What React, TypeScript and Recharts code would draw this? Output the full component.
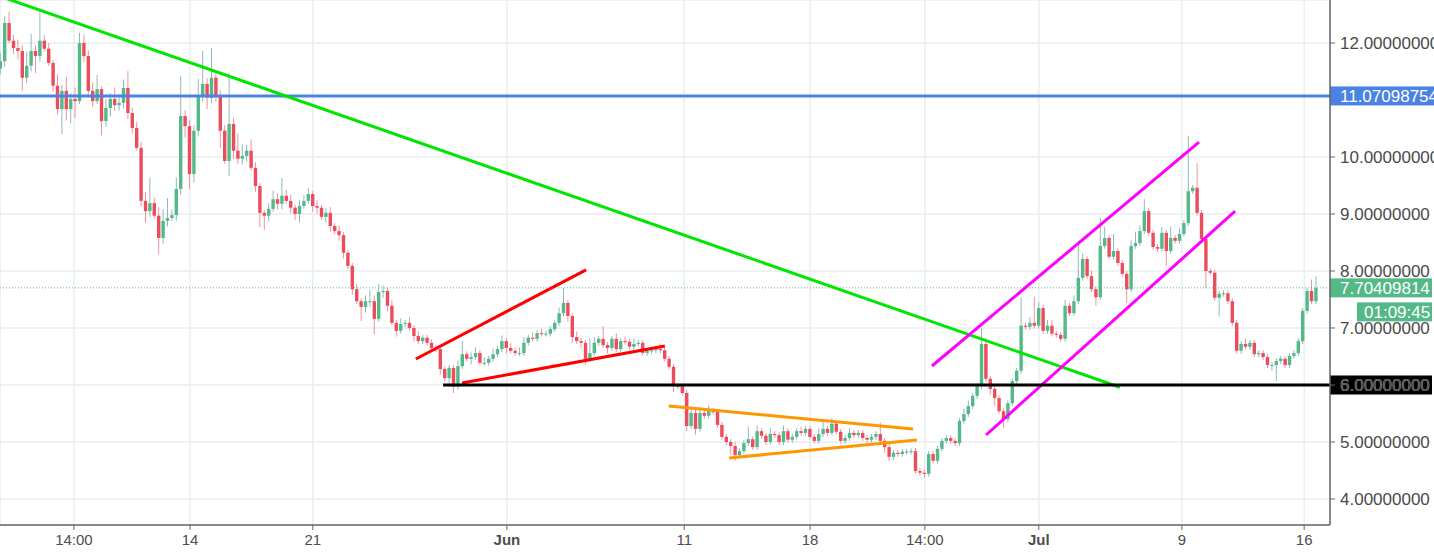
import React from 'react';
import { ComposedChart, Bar, XAxis, YAxis, CartesianGrid, ReferenceLine } from 'recharts';

// ---- price data (6h candles), closes ----
const firstOpen = 11.55;
const closes = [
  11.68, 12.35, 12.04, 11.91, 11.86, 11.39, 11.6, 11.86, 11.77, 12.04,
  11.9, 11.65, 11.25, 10.84, 11.16, 10.84, 11.02, 10.98, 12.0, 11.77,
  11.16, 10.98, 11.19, 10.63, 10.86, 11.02, 10.91, 10.95, 11.21, 10.77,
  10.51, 10.16, 9.23, 9.05, 9.19, 8.97, 8.58, 8.88, 8.93, 8.98,
  9.44, 10.72, 10.54, 9.7, 10.46, 11.07, 11.28, 11.04, 11.39, 11.07,
  10.46, 9.93, 10.58, 10.11, 9.97, 10.02, 10.11, 9.81, 9.49, 9.02,
  8.97, 9.09, 9.26, 9.18, 9.32, 9.23, 9.11, 9.0, 9.14, 9.23,
  9.35, 9.14, 9.11, 8.95, 9.02, 8.79, 8.7, 8.63, 8.32, 8.09,
  7.68, 7.47, 7.37, 7.47, 7.47, 7.16, 7.63, 7.65, 7.39, 7.09,
  6.95, 7.07, 7.09, 7.0, 6.86, 6.77, 6.83, 6.74, 6.65, 6.63,
  6.28, 6.12, 6.3, 5.97, 6.33, 6.54, 6.46, 6.49, 6.56, 6.39,
  6.39, 6.46, 6.54, 6.63, 6.77, 6.65, 6.6, 6.56, 6.56, 6.74,
  6.83, 6.81, 6.91, 6.9, 6.9, 6.98, 7.09, 7.26, 7.44, 7.21,
  6.84, 6.77, 6.74, 6.46, 6.56, 6.74, 6.81, 6.7, 6.65, 6.81,
  6.63, 6.77, 6.76, 6.67, 6.72, 6.74, 6.56, 6.6, 6.61, 6.63,
  6.61, 6.46, 6.32, 5.98, 5.98, 5.86, 5.28, 5.51, 5.23, 5.51,
  5.46, 5.54, 5.53, 5.3, 5.09, 5.0, 4.93, 4.77, 4.84, 4.98,
  5.05, 4.91, 5.19, 5.11, 5.0, 5.14, 5.12, 5.0, 5.19, 5.04,
  5.09, 5.19, 5.16, 5.23, 5.09, 5.02, 5.14, 5.23, 5.16, 5.32,
  5.18, 5.02, 5.07, 5.16, 5.12, 5.16, 5.07, 5.04, 5.09, 5.14,
  5.02, 4.91, 4.74, 4.81, 4.79, 4.83, 4.83, 4.84, 4.49, 4.46,
  4.44, 4.79, 4.67, 4.88, 5.02, 5.07, 5.02, 4.98, 5.37, 5.49,
  5.63, 5.81, 5.98, 6.72, 6.11, 5.93, 5.77, 5.54, 5.4, 5.68,
  6.07, 6.25, 7.04, 7.02, 7.09, 7.04, 7.35, 6.95, 7.04, 6.9,
  6.88, 6.81, 7.39, 7.26, 7.47, 7.88, 8.21, 7.91, 7.68, 7.54,
  8.44, 8.58, 8.25, 8.35, 8.14, 7.95, 7.68, 8.44, 8.49, 8.7,
  9.05, 8.67, 8.42, 8.39, 8.67, 8.35, 8.58, 8.53, 8.65, 8.84,
  9.4, 9.46, 9.02, 8.56, 8.0, 7.97, 7.53, 7.6, 7.61, 7.47,
  7.09, 6.6, 6.72, 6.67, 6.74, 6.54, 6.56, 6.49, 6.35, 6.35,
  6.42, 6.46, 6.35, 6.51, 6.56, 6.77, 7.3, 7.65, 7.47, 7.70409814,
];
const wickUp = [
  0.15, 0.12, 0.2, 0.1, 0.15, 0.1, 0.25, 0.3, 0.1, 0.55,
  0.1, 0.1, 0.05, 0.2, 0.1, 0.25, 0.1, 0.2, 0.18, 0.15,
  0.1, 0.15, 0.25, 0.05, 0.15, 0.1, 0.2, 0.15, 0.15, 0.3,
  0.1, 0.1, 0.1, 0.15, 0.45, 0.1, 0.15, 0.2, 0.35, 0.1,
  0.2, 0.7, 0.1, 0.1, 0.1, 0.3, 0.58, 0.1, 0.52, 0.1,
  0.1, 0.1, 0.89, 0.1, 0.3, 0.2, 0.1, 0.2, 0.1, 0.05,
  0.05, 0.1, 0.15, 0.1, 0.31, 0.1, 0.1, 0.05, 0.1, 0.1,
  0.1, 0.05, 0.1, 0.05, 0.08, 0.1, 0.05, 0.1, 0.05, 0.05,
  0.05, 0.1, 0.05, 0.1, 0.2, 0.1, 0.14, 0.1, 0.05, 0.1,
  0.05, 0.1, 0.05, 0.1, 0.05, 0.08, 0.05, 0.05, 0.06, 0.05,
  0.05, 0.05, 0.05, 0.05, 0.1, 0.23, 0.05, 0.08, 0.1, 0.05,
  0.1, 0.05, 0.1, 0.05, 0.1, 0.05, 0.08, 0.05, 0.1, 0.1,
  0.05, 0.1, 0.05, 0.08, 0.05, 0.05, 0.05, 0.1, 0.26, 0.05,
  0.05, 0.1, 0.05, 0.05, 0.25, 0.1, 0.05, 0.22, 0.05, 0.05,
  0.1, 0.05, 0.08, 0.05, 0.1, 0.05, 0.05, 0.05, 0.06, 0.05,
  0.1, 0.05, 0.05, 0.05, 0.05, 0.05, 0.05, 0.1, 0.05, 0.1,
  0.05, 0.1, 0.05, 0.05, 0.05, 0.05, 0.05, 0.08, 0.05, 0.05,
  0.22, 0.05, 0.1, 0.05, 0.05, 0.1, 0.05, 0.05, 0.1, 0.05,
  0.05, 0.05, 0.08, 0.05, 0.05, 0.05, 0.1, 0.15, 0.05, 0.1,
  0.05, 0.05, 0.05, 0.08, 0.05, 0.05, 0.05, 0.05, 0.05, 0.05,
  0.2, 0.05, 0.05, 0.05, 0.05, 0.05, 0.05, 0.05, 0.05, 0.05,
  0.05, 0.05, 0.05, 0.05, 0.05, 0.05, 0.05, 0.05, 0.05, 0.1,
  0.1, 0.05, 0.05, 0.28, 0.1, 0.05, 0.05, 0.05, 0.05, 0.05,
  0.05, 0.05, 0.49, 0.05, 0.1, 0.46, 0.1, 0.05, 0.1, 0.1,
  0.05, 0.05, 0.1, 0.05, 0.1, 0.65, 0.1, 0.05, 0.1, 0.05,
  0.49, 0.2, 0.05, 0.3, 0.05, 0.05, 0.05, 0.1, 0.2, 0.1,
  0.21, 0.05, 0.05, 0.05, 0.1, 0.05, 0.2, 0.05, 0.1, 0.05,
  0.97, 0.05, 0.43, 0.05, 0.05, 0.05, 0.05, 0.05, 0.05, 0.05,
  0.05, 0.05, 0.05, 0.1, 0.05, 0.05, 0.05, 0.05, 0.05, 0.05,
  0.05, 0.05, 0.05, 0.05, 0.05, 0.05, 0.05, 0.05, 0.2, 0.2,
];
const wickDn = [
  0.1, 0.1, 0.05, 0.1, 0.15, 0.23, 0.1, 0.1, 0.3, 0.1,
  0.05, 0.05, 0.1, 0.1, 0.44, 0.2, 0.25, 0.3, 0.05, 0.1,
  0.1, 0.1, 0.05, 0.25, 0.1, 0.15, 0.1, 0.1, 0.1, 0.1,
  0.1, 0.05, 0.1, 0.2, 0.1, 0.05, 0.28, 0.1, 0.1, 0.05,
  0.1, 0.1, 0.2, 0.26, 0.15, 0.1, 0.1, 0.2, 0.1, 0.1,
  0.3, 0.05, 0.26, 0.15, 0.1, 0.1, 0.1, 0.05, 0.1, 0.25,
  0.25, 0.1, 0.05, 0.1, 0.1, 0.05, 0.1, 0.1, 0.15, 0.05,
  0.05, 0.1, 0.1, 0.05, 0.1, 0.1, 0.05, 0.1, 0.1, 0.05,
  0.1, 0.05, 0.25, 0.1, 0.1, 0.27, 0.05, 0.1, 0.1, 0.05,
  0.1, 0.05, 0.05, 0.05, 0.1, 0.05, 0.05, 0.05, 0.05, 0.05,
  0.1, 0.05, 0.1, 0.11, 0.05, 0.05, 0.05, 0.1, 0.05, 0.05,
  0.05, 0.05, 0.05, 0.05, 0.05, 0.1, 0.05, 0.05, 0.05, 0.05,
  0.05, 0.05, 0.05, 0.05, 0.05, 0.05, 0.05, 0.05, 0.05, 0.1,
  0.1, 0.05, 0.1, 0.1, 0.05, 0.05, 0.05, 0.05, 0.1, 0.05,
  0.05, 0.05, 0.05, 0.05, 0.05, 0.05, 0.05, 0.05, 0.05, 0.05,
  0.05, 0.05, 0.05, 0.1, 0.05, 0.05, 0.09, 0.05, 0.1, 0.05,
  0.05, 0.05, 0.05, 0.05, 0.05, 0.05, 0.16, 0.1, 0.05, 0.05,
  0.05, 0.05, 0.05, 0.05, 0.05, 0.05, 0.05, 0.05, 0.05, 0.05,
  0.05, 0.05, 0.05, 0.05, 0.05, 0.05, 0.05, 0.05, 0.05, 0.05,
  0.05, 0.05, 0.05, 0.05, 0.05, 0.05, 0.05, 0.05, 0.05, 0.05,
  0.05, 0.1, 0.07, 0.05, 0.05, 0.05, 0.05, 0.05, 0.05, 0.05,
  0.07, 0.05, 0.05, 0.05, 0.05, 0.05, 0.05, 0.05, 0.05, 0.05,
  0.05, 0.05, 0.05, 0.05, 0.05, 0.1, 0.14, 0.05, 0.15, 0.05,
  0.05, 0.05, 0.05, 0.05, 0.05, 0.05, 0.05, 0.05, 0.05, 0.05,
  0.05, 0.05, 0.05, 0.05, 0.05, 0.05, 0.05, 0.05, 0.05, 0.15,
  0.05, 0.05, 0.05, 0.05, 0.05, 0.05, 0.24, 0.05, 0.05, 0.05,
  0.05, 0.05, 0.05, 0.05, 0.05, 0.26, 0.05, 0.05, 0.05, 0.05,
  0.05, 0.05, 0.05, 0.05, 0.3, 0.05, 0.05, 0.33, 0.05, 0.05,
  0.05, 0.05, 0.05, 0.05, 0.05, 0.05, 0.05, 0.05, 0.05, 0.1,
  0.28, 0.05, 0.05, 0.05, 0.05, 0.05, 0.05, 0.05, 0.05, 0.05,
];

// ---- axes ----
const xTickPos = [16.8, 43.2, 71.1, 115.2, 155.5, 184.1, 210.2, 236.1, 268.6, 296.4];
const xTickLabels = ['14:00', '14', '21', 'Jun', '11', '18', '14:00', 'Jul', '9', '16'];
const xTickBold = [false, false, false, true, false, false, false, true, false, false];
// 11 is hidden behind the blue price tag in the reference
const yTicks = [4, 5, 6, 7, 8, 9, 10, 12];
const xDomain = [0, 302.27];
const yDomain = [3.544, 12.754];

// ---- drawn levels and trendlines (index, price) ----
const resistanceLevel = 11.07098754;
const supportLevel = 6.0;
const lastPrice = 7.70409814;
const countdown = '01:09:45';
const greenTrend = [{ x: 0, y: 12.82 }, { x: 254.5, y: 5.96 }];
const redUpper = [{ x: 94.5, y: 6.456 }, { x: 133.2, y: 8.02 }];
const redLower = [{ x: 105, y: 6.035 }, { x: 151.1, y: 6.684 }];
const blackSupport = [{ x: 100.7, y: 6.0 }, { x: 302.27, y: 6.0 }];
const orangeUpper = [{ x: 152, y: 5.63 }, { x: 207.5, y: 5.23 }];
const orangeLower = [{ x: 165.7, y: 4.72 }, { x: 208.4, y: 5.035 }];
const magentaUpper = [{ x: 211.8, y: 6.333 }, { x: 272.5, y: 10.26 }];
const magentaLower = [{ x: 224.1, y: 5.123 }, { x: 280.7, y: 9.05 }];

const data = closes.map((c, i) => {
  const o = i === 0 ? firstOpen : closes[i - 1];
  return {
    i,
    open: o,
    close: c,
    high: Math.max(o, c) + wickUp[i],
    low: Math.min(o, c) - wickDn[i],
  };
});

const UP = '#53b987';
const DOWN = '#eb4d5c';
const UP_WICK = '#8fb7c2';
const DOWN_WICK = '#f0939c';
const FS = 17;

const Candle = (p: any) => {
  const { x, y, width, height, payload } = p;
  if (!payload || x == null) return null;
  const top = Math.min(y, y + height);
  const h = Math.abs(height);
  const span = payload.high - payload.low;
  const k = span > 0 ? h / span : 0;
  const yO = top + (payload.high - payload.open) * k;
  const yC = top + (payload.high - payload.close) * k;
  const up = payload.close >= payload.open;
  const cx = x + width / 2;
  const bt = Math.min(yO, yC);
  const bh = Math.max(1, Math.abs(yO - yC));
  return (
    <g>
      <line x1={cx} x2={cx} y1={top} y2={top + h} stroke={up ? UP_WICK : DOWN_WICK} strokeWidth={1} />
      <rect x={cx - 1.7} y={bt} width={3.4} height={bh} fill={up ? UP : DOWN} />
    </g>
  );
};

const XTick = (p: any) => {
  const { x, y, payload } = p;
  const idx = xTickPos.indexOf(payload.value);
  return (
    <text x={x} y={y} dy="0.71em" textAnchor="middle" fontSize={15} fill="#4d4d4d" fontWeight={xTickBold[idx] ? 700 : 400}>
      {xTickLabels[idx]}
    </text>
  );
};

const Tag = (p: any) => {
  const { viewBox, text, bg, dx = 0, dy = 0, w = 104, h = 19, pad = 10 } = p;
  if (!viewBox) return null;
  const x = viewBox.x + viewBox.width + dx;
  const y = viewBox.y + dy;
  return (
    <g>
      <rect x={x} y={y - h / 2} width={w} height={h} fill={bg} />
      <text x={x + pad} y={y} dy="0.36em" fontSize={FS} fill="#ffffff">{text}</text>
    </g>
  );
};

export default function App() {
  return (
    <div style={{ position: 'absolute', left: 0, top: 0, fontFamily: '"Liberation Sans", Arial, sans-serif', background: '#fff' }}>
      <ComposedChart width={1434} height={552} data={data} margin={{ top: 0, right: 0, bottom: 0, left: 0 }}>
        <CartesianGrid stroke="#e8eef5" strokeWidth={1.5} />
        <XAxis
          type="number"
          dataKey="i"
          domain={xDomain}
          allowDataOverflow
          ticks={xTickPos}
          interval={0}
          height={27}
          tick={<XTick />}
          tickSize={5}
          tickMargin={4}
          axisLine={{ stroke: '#666', strokeWidth: 1.5 }}
          tickLine={{ stroke: '#666' }}
        />
        <YAxis
          orientation="right"
          type="number"
          domain={yDomain}
          allowDataOverflow
          ticks={yTicks}
          interval={0}
          width={104}
          tickFormatter={(v: number) => v.toFixed(8)}
          tick={{ fontSize: FS, fill: '#4a4a4a' }}
          tickSize={5}
          tickMargin={5}
          axisLine={{ stroke: '#666', strokeWidth: 1.5 }}
          tickLine={{ stroke: '#666' }}
        />
        <Bar dataKey={(d: any) => [d.low, d.high]} shape={<Candle />} barSize={3} isAnimationActive={false} />
        <ReferenceLine y={lastPrice} stroke={UP} strokeDasharray="1 2" strokeWidth={1}
          label={(p: any) => (
            <g>
              <Tag {...p} text={lastPrice.toFixed(8)} bg={UP} w={102} h={19} />
              <Tag {...p} text={countdown} bg={UP} dx={27} dy={24} w={75} h={19} pad={7} />
            </g>
          )}
        />
        <ReferenceLine y={resistanceLevel} stroke="#4a83e3" strokeWidth={3}
          label={(p: any) => <Tag {...p} text={resistanceLevel.toFixed(8)} bg="#4a83e3" w={104} h={19} />}
        />
        <ReferenceLine segment={greenTrend} stroke="#00e600" strokeWidth={3} ifOverflow="hidden" />
        <ReferenceLine segment={redUpper} stroke="#ff0000" strokeWidth={3} ifOverflow="visible" />
        <ReferenceLine segment={redLower} stroke="#ff0000" strokeWidth={3} ifOverflow="visible" />
        <ReferenceLine segment={orangeUpper} stroke="#ff9800" strokeWidth={3} ifOverflow="visible" />
        <ReferenceLine segment={orangeLower} stroke="#ff9800" strokeWidth={3} ifOverflow="visible" />
        <ReferenceLine segment={magentaUpper} stroke="#ff00ff" strokeWidth={3} ifOverflow="visible" />
        <ReferenceLine segment={magentaLower} stroke="#ff00ff" strokeWidth={3} ifOverflow="visible" />
        <ReferenceLine segment={blackSupport} stroke="#000000" strokeWidth={3} ifOverflow="visible" />
        <ReferenceLine y={supportLevel} stroke="none"
          label={(p: any) => <Tag {...p} text={supportLevel.toFixed(8)} bg="#000000" w={102} h={19} />}
        />
      </ComposedChart>
    </div>
  );
}
